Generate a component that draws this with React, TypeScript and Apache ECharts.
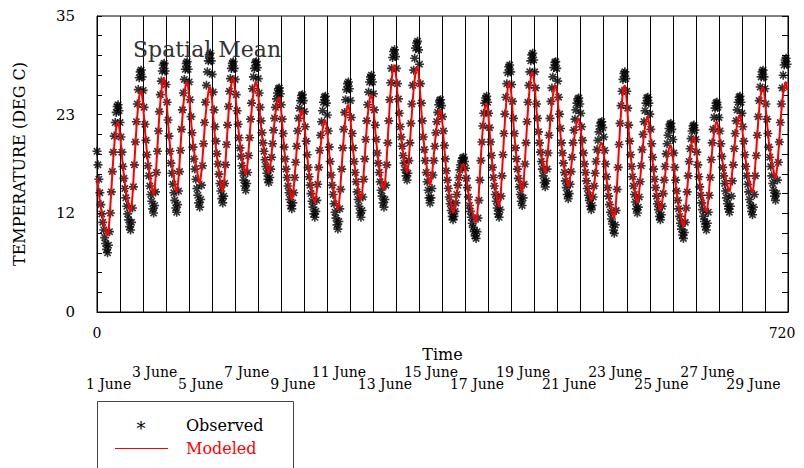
import React, { useEffect, useRef } from "react";
import * as echarts from "echarts";

// Hourly observed temperature (deg C), one row per day, 1 June .. 30 June
const observed: number[][] = [
  [19.0,17.4,15.7,14.1,12.7,11.6,10.6,9.7,8.8,8.1,7.4,7.0,7.9,9.5,11.7,14.2,16.6,18.9,20.8,22.4,23.6,24.3,24.5,23.8],
  [22.4,20.7,18.9,17.2,15.8,14.6,13.5,12.5,11.6,10.9,10.1,9.7,10.6,12.3,14.8,17.4,20.1,22.5,24.6,26.3,27.7,28.4,28.6,27.8],
  [26.2,24.2,22.2,20.3,18.6,17.3,16.1,14.9,13.9,13.1,12.2,11.7,12.6,14.2,16.5,19.0,21.4,23.7,25.7,27.3,28.5,29.2,29.4,28.5],
  [26.9,24.8,22.7,20.8,19.0,17.6,16.4,15.1,14.1,13.2,12.3,11.8,12.7,14.3,16.6,19.1,21.6,23.9,25.9,27.5,28.7,29.4,29.6,28.7],
  [27.2,25.1,23.1,21.2,19.5,18.1,16.9,15.7,14.6,13.8,12.9,12.4,13.3,15.0,17.3,19.9,22.4,24.8,26.8,28.4,29.7,30.4,30.6,29.7],
  [28.1,26.0,23.9,21.9,20.2,18.7,17.5,16.3,15.2,14.3,13.4,12.9,13.7,15.2,17.4,19.8,22.1,24.3,26.1,27.6,28.8,29.4,29.6,28.8],
  [27.5,25.7,23.8,22.2,20.6,19.4,18.4,17.3,16.4,15.6,14.9,14.4,15.2,16.5,18.5,20.6,22.8,24.7,26.4,27.8,28.8,29.5,29.6,28.9],
  [27.6,25.9,24.2,22.6,21.2,20.0,19.0,18.0,17.2,16.4,15.7,15.3,15.9,16.9,18.3,19.9,21.5,22.9,24.2,25.2,25.9,26.4,26.5,25.8],
  [24.5,22.8,21.1,19.5,18.1,16.9,15.9,14.9,14.1,13.3,12.6,12.2,12.9,14.1,15.9,17.7,19.6,21.4,22.9,24.1,25.0,25.6,25.7,25.0],
  [23.7,21.9,20.2,18.6,17.1,16.0,15.0,14.0,13.1,12.4,11.6,11.2,11.9,13.2,15.1,17.1,19.1,20.9,22.5,23.8,24.8,25.4,25.5,24.7],
  [23.3,21.4,19.5,17.8,16.2,15.0,13.9,12.8,11.8,11.1,10.3,9.8,10.7,12.2,14.5,16.9,19.4,21.6,23.6,25.1,26.3,27.0,27.2,26.4],
  [25.0,23.0,21.1,19.4,17.8,16.5,15.4,14.2,13.3,12.5,11.7,11.2,12.0,13.6,15.7,18.1,20.4,22.6,24.5,26.0,27.2,27.8,28.0,27.2],
  [25.8,23.9,22.1,20.4,18.8,17.6,16.5,15.4,14.4,13.7,12.9,12.4,13.3,15.0,17.4,20.0,22.6,25.1,27.1,28.8,30.1,30.8,31.0,30.2],
  [28.8,27.0,25.2,23.5,21.9,20.7,19.6,18.5,17.6,16.8,16.1,15.6,16.4,17.9,20.0,22.3,24.6,26.8,28.6,30.0,31.2,31.8,32.0,31.0],
  [29.3,27.0,24.7,22.6,20.7,19.2,17.9,16.5,15.4,14.4,13.5,12.9,13.5,14.6,16.2,17.9,19.6,21.2,22.5,23.6,24.5,25.0,25.1,24.4],
  [23.1,21.4,19.7,18.1,16.7,15.6,14.6,13.6,12.8,12.0,11.3,10.9,11.3,11.9,12.9,13.9,15.0,15.9,16.8,17.4,17.9,18.2,18.3,17.8],
  [17.0,15.8,14.7,13.6,12.6,11.9,11.2,10.5,10.0,9.5,9.0,8.7,9.5,11.1,13.2,15.6,17.9,20.1,22.0,23.5,24.7,25.3,25.5,24.8],
  [23.5,21.8,20.1,18.5,17.1,15.9,14.9,13.9,13.1,12.3,11.6,11.2,12.1,13.7,16.1,18.6,21.1,23.4,25.4,27.0,28.3,29.0,29.2,28.4],
  [26.9,24.9,22.9,21.1,19.4,18.1,16.9,15.8,14.8,13.9,13.1,12.6,13.5,15.1,17.5,20.0,22.5,24.8,26.8,28.4,29.7,30.4,30.6,29.8],
  [28.4,26.5,24.6,22.9,21.3,20.0,18.9,17.8,16.9,16.1,15.3,14.8,15.5,16.9,18.8,20.9,22.9,24.9,26.5,27.8,28.9,29.5,29.6,28.8],
  [27.3,25.4,23.4,21.7,20.0,18.8,17.6,16.5,15.5,14.7,13.9,13.4,14.0,15.1,16.6,18.3,20.0,21.5,22.8,23.9,24.7,25.2,25.3,24.6],
  [23.5,21.9,20.3,18.8,17.5,16.5,15.5,14.6,13.8,13.2,12.5,12.1,12.6,13.6,14.9,16.4,17.8,19.2,20.3,21.3,22.0,22.4,22.5,21.8],
  [20.7,19.1,17.5,16.0,14.7,13.7,12.7,11.8,11.0,10.4,9.7,9.3,10.3,12.0,14.5,17.1,19.8,22.3,24.4,26.1,27.5,28.2,28.4,27.6],
  [26.1,24.1,22.1,20.2,18.6,17.2,16.0,14.9,13.9,13.0,12.2,11.7,12.4,13.6,15.4,17.3,19.2,21.0,22.5,23.8,24.7,25.3,25.4,24.7],
  [23.4,21.6,19.9,18.3,16.9,15.7,14.7,13.7,12.8,12.1,11.3,10.9,11.5,12.5,14.0,15.6,17.2,18.7,19.9,20.9,21.7,22.2,22.3,21.6],
  [20.4,18.8,17.1,15.6,14.3,13.2,12.2,11.3,10.5,9.8,9.1,8.7,9.4,10.6,12.3,14.2,16.1,17.8,19.3,20.5,21.4,22.0,22.1,21.5],
  [20.4,18.9,17.4,16.0,14.8,13.8,12.9,12.1,11.3,10.7,10.1,9.7,10.5,11.8,13.8,15.9,18.0,20.0,21.6,23.0,24.1,24.7,24.8,24.2],
  [23.0,21.4,19.9,18.4,17.1,16.1,15.2,14.3,13.5,12.8,12.2,11.8,12.5,13.7,15.5,17.4,19.3,21.1,22.6,23.9,24.8,25.4,25.5,24.8],
  [23.5,21.9,20.2,18.6,17.2,16.1,15.1,14.2,13.3,12.6,11.9,11.5,12.4,13.9,16.1,18.5,20.9,23.1,25.0,26.6,27.8,28.4,28.6,27.8],
  [26.4,24.6,22.8,21.1,19.5,18.3,17.2,16.1,15.2,14.4,13.7,13.2,14.0,15.6,17.7,20.1,22.4,24.6,26.5,28.0,29.2,29.8,30.0,29.3],
];

// Hourly modeled temperature (deg C), one row per day
const modeled: number[][] = [
  [15.9,14.9,14.0,13.1,12.3,11.6,11.1,10.5,10.0,9.6,9.2,9.0,9.7,10.9,12.7,14.5,16.4,18.2,19.7,20.9,21.8,22.4,22.5,22.0],
  [21.0,19.7,18.4,17.3,16.2,15.3,14.6,13.8,13.2,12.7,12.1,11.8,12.5,13.8,15.7,17.7,19.7,21.6,23.2,24.5,25.5,26.1,26.2,25.6],
  [24.5,23.0,21.5,20.1,18.9,17.9,17.0,16.2,15.4,14.8,14.2,13.8,14.5,15.8,17.6,19.5,21.5,23.3,24.8,26.0,27.0,27.6,27.7,27.0],
  [25.8,24.2,22.5,21.0,19.7,18.6,17.6,16.7,15.9,15.2,14.5,14.1,14.8,15.9,17.6,19.5,21.3,23.0,24.5,25.6,26.6,27.1,27.2,26.6],
  [25.5,24.1,22.6,21.3,20.1,19.2,18.3,17.5,16.8,16.2,15.6,15.2,15.8,16.8,18.3,19.9,21.5,23.0,24.2,25.2,26.0,26.5,26.6,26.0],
  [24.9,23.4,21.9,20.5,19.3,18.3,17.4,16.6,15.8,15.2,14.6,14.2,14.9,16.1,17.9,19.7,21.6,23.4,24.9,26.1,27.0,27.6,27.7,27.1],
  [26.1,24.7,23.3,22.1,20.9,20.0,19.2,18.4,17.7,17.1,16.6,16.2,16.8,17.7,19.2,20.7,22.3,23.7,24.9,25.9,26.7,27.1,27.2,26.7],
  [25.7,24.4,23.1,21.9,20.8,20.0,19.2,18.5,17.8,17.3,16.7,16.4,16.9,17.7,18.8,20.1,21.4,22.5,23.5,24.3,25.0,25.3,25.4,24.8],
  [23.7,22.2,20.8,19.4,18.2,17.2,16.4,15.5,14.8,14.2,13.6,13.2,13.7,14.7,16.1,17.6,19.1,20.5,21.7,22.6,23.4,23.8,23.9,23.4],
  [22.4,21.0,19.7,18.5,17.4,16.5,15.8,15.0,14.3,13.8,13.2,12.9,13.4,14.3,15.6,16.9,18.3,19.6,20.6,21.5,22.2,22.6,22.7,22.2],
  [21.2,19.9,18.7,17.5,16.5,15.6,14.9,14.1,13.5,13.0,12.4,12.1,12.7,13.8,15.5,17.2,18.9,20.5,21.9,23.0,23.9,24.4,24.5,23.9],
  [22.9,21.6,20.2,19.0,17.8,16.9,16.1,15.4,14.7,14.1,13.5,13.2,13.8,15.0,16.6,18.3,20.1,21.7,23.1,24.2,25.1,25.6,25.7,25.1],
  [24.1,22.8,21.4,20.2,19.0,18.1,17.3,16.6,15.9,15.3,14.7,14.4,15.1,16.5,18.4,20.5,22.5,24.5,26.1,27.4,28.5,29.1,29.2,28.6],
  [27.4,25.9,24.3,22.9,21.7,20.6,19.7,18.8,18.1,17.4,16.8,16.4,17.0,18.2,19.8,21.6,23.3,25.0,26.4,27.5,28.4,28.9,29.0,28.3],
  [27.0,25.4,23.7,22.1,20.7,19.6,18.6,17.7,16.8,16.1,15.4,15.0,15.4,16.2,17.4,18.6,19.9,21.0,22.0,22.8,23.5,23.8,23.9,23.3],
  [22.2,20.7,19.3,17.9,16.7,15.7,14.9,14.0,13.3,12.7,12.1,11.7,12.0,12.5,13.3,14.1,14.9,15.6,16.3,16.8,17.2,17.4,17.5,17.2],
  [16.5,15.7,14.9,14.1,13.4,12.9,12.4,11.9,11.5,11.2,10.8,10.6,11.3,12.6,14.4,16.4,18.4,20.2,21.7,23.0,24.0,24.6,24.7,24.1],
  [23.0,21.5,20.0,18.7,17.4,16.5,15.6,14.7,14.0,13.4,12.8,12.4,13.1,14.5,16.4,18.5,20.5,22.5,24.1,25.4,26.5,27.1,27.2,26.6],
  [25.4,23.8,22.2,20.8,19.5,18.4,17.5,16.6,15.8,15.2,14.5,14.1,14.8,16.1,18.0,20.0,22.0,23.8,25.4,26.7,27.7,28.3,28.4,27.8],
  [26.7,25.3,23.8,22.5,21.3,20.4,19.5,18.7,18.0,17.4,16.8,16.4,16.9,17.9,19.2,20.7,22.1,23.5,24.6,25.6,26.3,26.7,26.8,26.2],
  [25.1,23.7,22.2,20.9,19.7,18.8,17.9,17.1,16.4,15.8,15.2,14.8,15.2,15.9,17.0,18.1,19.3,20.3,21.2,21.9,22.5,22.8,22.9,22.4],
  [21.5,20.4,19.2,18.2,17.2,16.4,15.7,15.0,14.5,14.0,13.5,13.2,13.5,14.2,15.0,16.0,16.9,17.8,18.6,19.2,19.7,19.9,20.0,19.6],
  [18.8,17.7,16.6,15.6,14.8,14.0,13.4,12.8,12.3,11.8,11.4,11.1,11.9,13.3,15.3,17.5,19.7,21.8,23.5,24.9,26.0,26.6,26.8,26.1],
  [24.9,23.2,21.5,20.0,18.6,17.5,16.5,15.5,14.7,14.0,13.3,12.9,13.4,14.3,15.7,17.1,18.5,19.8,21.0,21.9,22.6,23.0,23.1,22.5],
  [21.5,20.2,18.9,17.7,16.6,15.7,14.9,14.1,13.4,12.9,12.3,12.0,12.4,13.1,14.1,15.2,16.2,17.2,18.1,18.8,19.3,19.6,19.7,19.2],
  [18.4,17.2,16.1,15.0,14.0,13.3,12.6,11.9,11.4,10.9,10.4,10.1,10.6,11.6,13.0,14.5,15.9,17.3,18.5,19.4,20.2,20.6,20.7,20.3],
  [19.5,18.4,17.3,16.3,15.5,14.7,14.1,13.5,13.0,12.5,12.1,11.8,12.3,13.3,14.7,16.2,17.7,19.1,20.3,21.2,22.0,22.4,22.5,22.1],
  [21.3,20.3,19.4,18.4,17.6,16.9,16.4,15.8,15.3,14.9,14.5,14.2,14.7,15.5,16.7,17.9,19.2,20.4,21.4,22.2,22.9,23.2,23.3,22.8],
  [22.0,20.9,19.8,18.8,17.9,17.1,16.5,15.9,15.3,14.8,14.4,14.1,14.7,15.9,17.5,19.2,21.0,22.6,24.0,25.1,26.0,26.5,26.6,26.1],
  [25.1,23.8,22.5,21.3,20.2,19.4,18.6,17.9,17.2,16.7,16.1,15.8,16.4,17.4,18.9,20.5,22.1,23.6,24.8,25.8,26.6,27.1,27.2,26.2],
];

const dayLabels: string[] = Array.from({ length: 30 }, (_, i) => `${i + 1} June`);
const upperRowDays: number[] = [3, 7, 11, 15, 19, 23, 27];
const lowerRowDays: number[] = [1, 5, 9, 13, 17, 21, 25, 29];
const xEndLabels: number[] = [0, 720];
const yMax = 35;
const yTickStep = 35 / 15;
const yLabelStep = 35 / 3;

const FONT = "DejaVu Serif";

const ASTERISK =
  "path://M-0.9,-5L0.9,-5L0.9,5L-0.9,5Z" +
  "M-5,-0.9L5,-0.9L5,0.9L-5,0.9Z" +
  "M-2.9,-4.17L4.17,2.9L2.9,4.17L-4.17,-2.9Z" +
  "M-4.17,2.9L2.9,-4.17L4.17,-2.9L-2.9,4.17Z";

export default function App() {
  const ref = useRef<HTMLDivElement>(null);
  useEffect(() => {
    document.body.style.margin = "0";
    if (!ref.current) return;
    const chart = echarts.init(ref.current, null, { renderer: "svg" });
    const obsData = observed.flatMap((row, d) => row.map((v, h) => [d * 24 + h, v]));
    const modData = modeled.flatMap((row, d) => row.map((v, h) => [d * 24 + h, v]));
    const rowLabel = (days: number[]) => (val: string, idx: number) =>
      days.includes(idx + 1) ? val : "";
    chart.setOption({
      animation: false,
      title: {
        text: "Spatial Mean",
        left: 128,
        top: 33,
        textStyle: { fontFamily: FONT, fontSize: 22, fontWeight: "normal", color: "#333" },
      },
      grid: {
        left: 97,
        right: 16,
        top: 16,
        bottom: 156,
        show: true,
        borderColor: "#000",
        borderWidth: 1,
        backgroundColor: "transparent",
      },
      xAxis: [
        {
          type: "value",
          min: 0,
          max: 720,
          interval: 24,
          position: "bottom",
          axisLine: { show: true, lineStyle: { color: "#000", width: 1 } },
          axisTick: { show: false },
          splitLine: { show: true, lineStyle: { color: "#000", width: 1 } },
          axisLabel: {
            margin: 14,
            fontFamily: FONT,
            fontSize: 14,
            color: "#000",
            showMinLabel: true,
            showMaxLabel: true,
            formatter: (v: number) =>
              v === xEndLabels[0] ? "0" : v === xEndLabels[1] ? "{r|720}" : "",
            rich: { r: { fontFamily: FONT, fontSize: 14, color: "#000", padding: [0, 12, 0, 0] } },
          },
          name: "Time",
          nameLocation: "middle",
          nameGap: 34,
          nameTextStyle: { fontFamily: FONT, fontSize: 16, color: "#000" },
        },
        {
          type: "category",
          data: dayLabels,
          position: "bottom",
          offset: 53,
          boundaryGap: true,
          axisLine: { show: false },
          axisTick: { show: false },
          splitLine: { show: false },
          axisLabel: {
            interval: 0,
            margin: 0,
            fontFamily: FONT,
            fontSize: 14,
            color: "#000",
            formatter: rowLabel(upperRowDays),
          },
        },
        {
          type: "category",
          data: dayLabels,
          position: "bottom",
          offset: 65,
          boundaryGap: true,
          axisLine: { show: false },
          axisTick: { show: false },
          splitLine: { show: false },
          axisLabel: {
            interval: 0,
            margin: 0,
            fontFamily: FONT,
            fontSize: 14,
            color: "#000",
            formatter: rowLabel(lowerRowDays),
          },
        },
      ],
      yAxis: [
        {
          type: "value",
          min: 0,
          max: yMax,
          interval: yTickStep,
          position: "left",
          axisLine: { show: true, lineStyle: { color: "#000", width: 1 } },
          axisTick: { show: true, inside: true, length: 5, lineStyle: { color: "#000" } },
          splitLine: { show: false },
          axisLabel: {
            margin: 22,
            fontFamily: FONT,
            fontSize: 15,
            color: "#000",
            formatter: (v: number) => {
              const k = v / yLabelStep;
              return Math.abs(k - Math.round(k)) < 0.01 ? String(Math.round(v)) : "";
            },
          },
          name: "TEMPERATURE (DEG C)",
          nameLocation: "middle",
          nameGap: 70,
          nameTextStyle: { fontFamily: FONT, fontSize: 16, color: "#000" },
        },
        {
          type: "value",
          min: 0,
          max: yMax,
          interval: yTickStep,
          position: "right",
          axisLine: { show: true, lineStyle: { color: "#000", width: 1 } },
          axisTick: { show: true, inside: true, length: 6, lineStyle: { color: "#000" } },
          splitLine: { show: false },
          axisLabel: { show: false },
        },
      ],
      series: [
        {
          type: "line",
          name: "Modeled",
          xAxisIndex: 0,
          yAxisIndex: 0,
          data: modData,
          showSymbol: false,
          lineStyle: { color: "#ff0000", width: 2 },
          silent: true,
        },
        {
          type: "scatter",
          name: "Observed",
          xAxisIndex: 0,
          yAxisIndex: 0,
          data: obsData,
          symbol: ASTERISK,
          symbolSize: 9,
          itemStyle: { color: "#000" },
          silent: true,
        },
      ],
      graphic: [
        {
          type: "rect",
          shape: { x: 97.5, y: 401.5, width: 196, height: 80 },
          style: { fill: "none", stroke: "#444", lineWidth: 1 },
        },
        {
          type: "text",
          x: 141,
          y: 428,
          style: { text: "*", font: `18px '${FONT}'`, fill: "#000", textAlign: "center", textVerticalAlign: "middle" },
        },
        {
          type: "text",
          x: 186,
          y: 425,
          style: { text: "Observed", font: `16px '${FONT}'`, fill: "#000", textVerticalAlign: "middle" },
        },
        {
          type: "line",
          shape: { x1: 115, y1: 448.5, x2: 168, y2: 448.5 },
          style: { stroke: "#ff0000", lineWidth: 1 },
        },
        {
          type: "text",
          x: 186,
          y: 448,
          style: { text: "Modeled", font: `16px '${FONT}'`, fill: "#ff0000", textVerticalAlign: "middle" },
        },
      ],
    });
    return () => chart.dispose();
  }, []);
  return <div ref={ref} style={{ width: 804, height: 468 }} />;
}
